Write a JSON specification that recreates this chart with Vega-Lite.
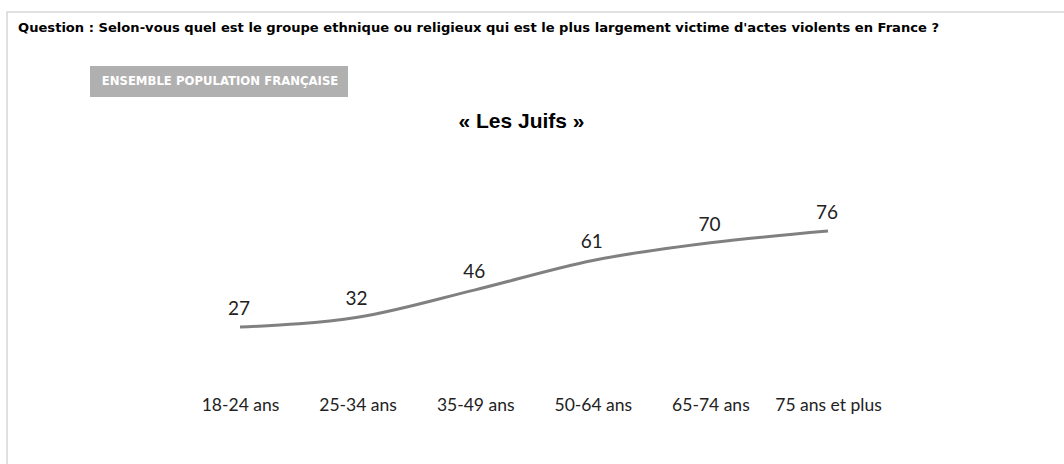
{
  "$schema": "https://vega.github.io/schema/vega-lite/v6.json",
  "autosize": {"type": "none"},
  "padding": {"left": 7, "top": 12, "right": 0, "bottom": 0},
  "width": 1070,
  "height": 460,
  "background": "white",
  "title": {
    "text": "Question : Selon-vous quel est le groupe ethnique ou religieux qui est le plus largement victime d'actes violents en France ?",
    "anchor": "start",
    "frame": "group",
    "orient": "top",
    "offset": 0,
    "dx": 11,
    "dy": 23,
    "font": "DejaVu Sans",
    "fontSize": 13.1,
    "fontWeight": "bold",
    "color": "#000000"
  },
  "data": {
    "values": [
      {"age": "18-24 ans", "pct": 27, "population": "Ensemble population française"},
      {"age": "25-34 ans", "pct": 32, "population": "Ensemble population française"},
      {"age": "35-49 ans", "pct": 46, "population": "Ensemble population française"},
      {"age": "50-64 ans", "pct": 61, "population": "Ensemble population française"},
      {"age": "65-74 ans", "pct": 70, "population": "Ensemble population française"},
      {"age": "75 ans et plus", "pct": 76, "population": "Ensemble population française"}
    ]
  },
  "encoding": {
    "x": {
      "field": "age",
      "type": "ordinal",
      "sort": null,
      "scale": {"type": "point", "padding": 0, "range": [233, 821]},
      "axis": {
        "orient": "bottom",
        "offset": -72,
        "title": null,
        "domain": false,
        "ticks": false,
        "grid": false,
        "labelAngle": 0,
        "labelPadding": 10,
        "labelBaseline": "alphabetic",
        "labelFont": "Lato",
        "labelFontSize": 17.5,
        "labelColor": "#222222",
        "labelLimit": 0
      }
    },
    "y": {
      "field": "pct",
      "type": "quantitative",
      "scale": {"domain": [-46.94, 187.76], "nice": false, "zero": false},
      "axis": {
        "orient": "left",
        "labels": false,
        "ticks": false,
        "domain": false,
        "grid": false,
        "title": "« Les Juifs »",
        "titleAngle": 0,
        "titleX": 514,
        "titleY": 115.5,
        "titleAlign": "center",
        "titleBaseline": "alphabetic",
        "titleFont": "Liberation Sans",
        "titleFontSize": 21,
        "titleFontWeight": "bold",
        "titleColor": "#000000"
      }
    }
  },
  "layer": [
    {
      "mark": {"type": "line", "strokeWidth": 3, "interpolate": "monotone"},
      "encoding": {
        "color": {
          "field": "population",
          "type": "nominal",
          "scale": {"range": ["#808080"]},
          "legend": {
            "orient": "none",
            "legendX": 83,
            "legendY": 54,
            "title": null,
            "fillColor": "#b0b0b0",
            "strokeColor": null,
            "padding": 9,
            "symbolSize": 0,
            "symbolOpacity": 0,
            "symbolStrokeWidth": 0,
            "labelOffset": -9,
            "labelColor": "#ffffff",
            "labelFont": "DejaVu Sans",
            "labelFontWeight": "bold",
            "labelFontSize": 11.7,
            "labelLimit": 0,
            "labelExpr": "upper(datum.label)"
          }
        }
      }
    },
    {
      "mark": {"type": "text", "dy": -12, "dx": -1, "baseline": "alphabetic", "font": "Lato", "fontSize": 19, "color": "#222222"},
      "encoding": {"text": {"field": "pct", "type": "quantitative"}}
    }
  ],
  "config": {"view": {"stroke": "#d6d6d6", "strokeWidth": 1.5}}
}
